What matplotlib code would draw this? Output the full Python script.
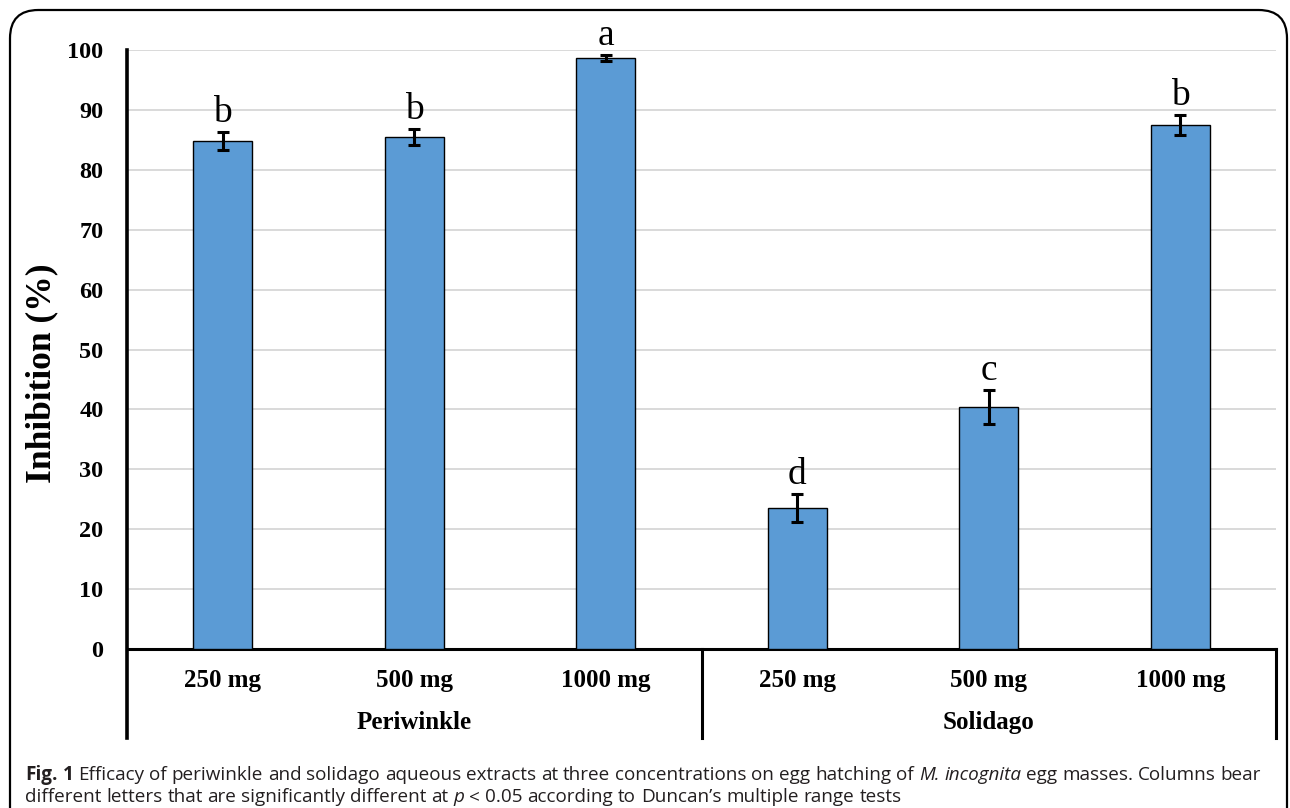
import numpy as np
import matplotlib
matplotlib.use('Agg')
import matplotlib.pyplot as plt
from matplotlib.patches import FancyBboxPatch

# data
groups = ['Periwinkle', 'Solidago']
doses = ['250 mg', '500 mg', '1000 mg', '250 mg', '500 mg', '1000 mg']
inhibition = [84.8, 85.5, 98.7, 23.5, 40.4, 87.5]
errors = [1.5, 1.3, 0.5, 2.3, 2.8, 1.7]
letters = ['b', 'b', 'a', 'd', 'c', 'b']
yticks = [0, 10, 20, 30, 40, 50, 60, 70, 80, 90, 100]

W, H = 1290, 808
fig = plt.figure(figsize=(W / 100, H / 100), dpi=100)
serif = 'Liberation Serif'
sans = 'Open Sans'

ax = fig.add_axes([127 / W, 1 - 649 / H, (1276 - 127) / W, (649 - 50) / H])
x = np.arange(len(doses))
ax.bar(x, inhibition, width=0.31, color='#5b9bd5', edgecolor='black', linewidth=1.0, zorder=3)
ax.errorbar(x, inhibition, yerr=errors, fmt='none', ecolor='black', elinewidth=2.2,
            capsize=4, capthick=2.2, zorder=4)
for xi, v, e, l in zip(x, inhibition, errors, letters):
    ax.annotate(l, (xi, v + e), xytext=(0, 1.5), textcoords='offset points',
                ha='center', va='bottom', fontsize=27, family=serif)

ax.set_xlim(-0.5, len(doses) - 0.5)
ax.set_ylim(0, 100)
ax.set_yticks(yticks)
ax.set_yticklabels([str(t) for t in yticks], fontsize=17.5, fontweight='bold', family=serif)
ax.tick_params(axis='y', length=0, pad=17)
ax.tick_params(axis='x', length=0, labelbottom=False)
ax.grid(axis='y', color='#d9d9d9', linewidth=1.4, zorder=0)
for s in ['top', 'right']:
    ax.spines[s].set_visible(False)
ax.spines['bottom'].set_linewidth(2.2)
ax.spines['left'].set_visible(False)
ax.set_ylabel('Inhibition (%)', fontsize=25.5, fontweight='bold', family=serif)
ax.yaxis.label.set_va('center')
ax.yaxis.set_label_coords((42 - 127) / 1149, (649 - 373) / 599)

# category axis with group separators
tr = ax.get_xaxis_transform()
low = (649 - 738) / (649 - 50)
ax.plot([-0.5, -0.5], [low, 1.0], color='black', lw=2.6, transform=tr, clip_on=False)
ax.plot([2.5, 2.5], [low, 0], color='black', lw=2.2, transform=tr, clip_on=False)
ax.plot([5.5, 5.5], [low, 0], color='black', lw=2.2, transform=tr, clip_on=False)
for xi, d in zip(x, doses):
    ax.text(xi, -0.052, d, transform=tr, ha='center', va='center', fontsize=18,
            fontweight='bold', family=serif)
for gi, g in enumerate(groups):
    ax.text(1 + 3 * gi, -0.122, g, transform=tr, ha='center', va='center', fontsize=18,
            fontweight='bold', family=serif)

# rounded frame of the figure panel
frame = FancyBboxPatch((10 / W, -0.2), (1287 - 10) / W, 1.2 - 10 / H,
                       boxstyle='round,pad=0,rounding_size=0.022', transform=fig.transFigure,
                       fill=False, edgecolor='black', linewidth=1.6, mutation_aspect=W / H)
fig.add_artist(frame)

# caption with mixed styles
renderer = fig.canvas.get_renderer()
fs = 13.6


def width_of(s, **kw):
    t = fig.text(0, 0, s, fontsize=fs, family=sans, **kw)
    w = t.get_window_extent(renderer).width
    t.remove()
    return w


space = width_of('a a') - width_of('aa')


def caption_line(pieces, y):
    xp = 25
    for txt, kw in pieces:
        words = txt.split(' ')
        for i, wd in enumerate(words):
            if wd:
                t = fig.text(xp / W, 1 - y / H, wd, fontsize=fs, family=sans,
                             va='baseline', color='#231f20', **kw)
                xp += t.get_window_extent(renderer).width
            if i < len(words) - 1:
                xp += space


caption_line([('Fig. 1', dict(fontweight='bold')),
              (' Efficacy of periwinkle and solidago aqueous extracts at three concentrations on egg hatching of ', {}),
              ('M. incognita', dict(style='italic')),
              (' egg masses. Columns bear', {})], 780)
caption_line([('different letters that are significantly different at ', {}),
              ('p', dict(style='italic')),
              (' < 0.05 according to Duncan\u2019s multiple range tests', {})], 802)

fig.savefig('out.png', dpi=100)
